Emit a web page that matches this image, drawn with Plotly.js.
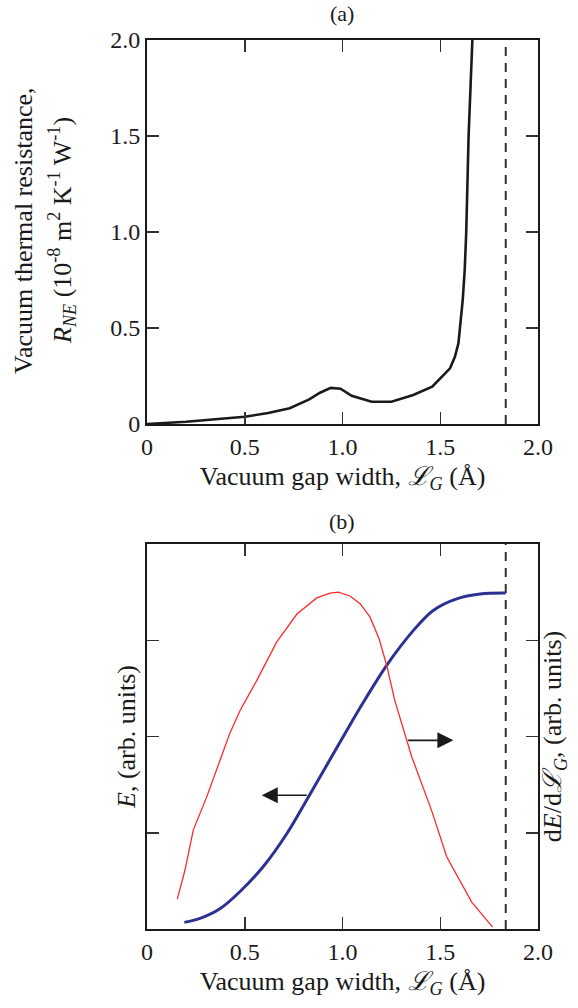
<!DOCTYPE html>
<html>
<head>
<meta charset="utf-8">
<script src="https://cdn.plot.ly/plotly-3.0.1.min.js"></script>
<style>html,body{margin:0;padding:0;background:#fff;}#chart{width:578px;height:1008px;}</style>
</head>
<body>
<div id="chart"></div>
<script>
// Panel (a): vacuum thermal resistance vs gap width
const gapA = [0, 0.2, 0.5, 0.62, 0.73, 0.83, 0.885, 0.94, 0.99, 1.047, 1.149, 1.25, 1.362, 1.459, 1.55, 1.575, 1.593, 1.605, 1.615, 1.625, 1.633, 1.645, 1.666, 1.672];
const resistA = [0, 0.012, 0.038, 0.057, 0.082, 0.128, 0.163, 0.188, 0.184, 0.147, 0.116, 0.116, 0.151, 0.194, 0.29, 0.35, 0.42, 0.54, 0.646, 0.8, 1.0, 1.5, 2.0, 2.2];

// Panel (b): energy E (left axis) and dE/dL_G (right axis), arbitrary units
const gapE = [0.191, 0.271, 0.373, 0.476, 0.595, 0.715, 0.825, 0.953, 1.055, 1.12, 1.226, 1.362, 1.464, 1.584, 1.703, 1.835];
const energyE = [0.069, 0.11, 0.21, 0.39, 0.65, 0.99, 1.37, 1.82, 2.18, 2.40, 2.74, 3.10, 3.31, 3.43, 3.48, 3.49];

const gapD = [0.155, 0.194, 0.237, 0.305, 0.373, 0.425, 0.476, 0.561, 0.663, 0.766, 0.868, 0.936, 0.979, 1.038, 1.09, 1.141, 1.188, 1.226, 1.268, 1.328, 1.354, 1.456, 1.533, 1.661, 1.768];
const derivD = [0.31, 0.61, 1.03, 1.37, 1.75, 2.04, 2.27, 2.58, 2.98, 3.27, 3.44, 3.49, 3.50, 3.46, 3.38, 3.24, 3.01, 2.74, 2.37, 1.98, 1.79, 1.23, 0.75, 0.28, 0.02];

const gapLimit = 1.835;
const xTicks = [0, 0.5, 1.0, 1.5, 2.0];
const xTickText = ['0', '0.5', '1.0', '1.5', '2.0'];
const yTicksA = [0, 0.5, 1.0, 1.5, 2.0];
const yTickTextA = ['0', '0.5', '1.0', '1.5', '2.0'];
const yTicksB = [1, 2, 3];

const FONT = '"Liberation Serif", "Times New Roman", serif';
const xTitle = 'Vacuum gap width, <i>ℒ</i><sub><i>G</i></sub> (Å)';
const yTitleA1 = 'Vacuum thermal resistance,';
const yTitleA2 = '<i>R</i><sub><i>NE</i></sub> (10<sup>-8</sup> m<sup>2</sup> K<sup>-1</sup> W<sup>-1</sup>)';

const traces = [
  {x: gapA, y: resistA, xaxis: 'x', yaxis: 'y', mode: 'lines', line: {color: '#1a1a1a', width: 2.6}, hoverinfo: 'skip'},
  {x: [gapLimit, gapLimit], y: [0, 2], xaxis: 'x', yaxis: 'y', mode: 'lines', line: {color: '#333', width: 2, dash: '9px,7px'}, hoverinfo: 'skip'},
  {x: gapD, y: derivD, xaxis: 'x2', yaxis: 'y3', mode: 'lines', line: {color: '#ff2a2a', width: 1.3}, hoverinfo: 'skip'},
  {x: gapE, y: energyE, xaxis: 'x2', yaxis: 'y2', mode: 'lines', line: {color: '#2e3192', width: 3, shape: 'spline'}, hoverinfo: 'skip'},
  {x: [gapLimit, gapLimit], y: [0, 4], xaxis: 'x2', yaxis: 'y2', mode: 'lines', line: {color: '#333', width: 2, dash: '9px,7px'}, hoverinfo: 'skip'}
];

const axBase = {
  showgrid: false, zeroline: false, showline: true, linecolor: '#1a1a1a', linewidth: 2,
  ticks: 'inside', ticklen: 12, tickwidth: 1.5, tickcolor: '#333', mirror: 'ticks',
  tickfont: {family: FONT, size: 24, color: '#1a1a1a'}
};
const tf = {family: FONT, size: 26, color: '#1a1a1a'};

const xDom = [147/578, 538/578];
const yDomA = [1 - 424/1008, 1 - 40/1008];
const layout = {
  width: 578, height: 1008,
  margin: {l: 0, r: 0, t: 0, b: 0},
  paper_bgcolor: '#fff', plot_bgcolor: '#fff',
  showlegend: false,
  font: {family: FONT, color: '#1a1a1a'},
  xaxis: Object.assign({}, axBase, {
    domain: xDom, anchor: 'y', range: [0, 2], tickvals: xTicks, ticktext: xTickText,
    title: {text: xTitle, font: tf, standoff: 8}
  }),
  yaxis: Object.assign({}, axBase, {
    domain: yDomA, anchor: 'x', range: [0, 2], tickvals: yTicksA, ticktext: yTickTextA
  }),
  xaxis2: Object.assign({}, axBase, {
    domain: xDom, anchor: 'y2', range: [0, 2], tickvals: xTicks, ticktext: xTickText,
    title: {text: xTitle, font: tf, standoff: 8}
  }),
  yaxis2: Object.assign({}, axBase, {
    domain: [1 - 929/1008, 1 - 544/1008], anchor: 'x2', range: [0, 4], tickvals: yTicksB, showticklabels: false,
    title: {text: '<i>E</i>, (arb. units)', font: tf, standoff: 2}
  }),
  yaxis3: Object.assign({}, axBase, {
    overlaying: 'y2', side: 'right', anchor: 'x2', range: [0, 4], tickvals: yTicksB, showticklabels: false, mirror: false,
    title: {text: 'd<i>E</i>/d<i>ℒ</i><sub><i>G</i></sub>, (arb. units)', font: tf, standoff: 4}
  }),
  annotations: [
    {text: yTitleA1, xref: 'paper', yref: 'paper', x: 24/578, y: 1 - 231/1008, textangle: -90, showarrow: false, font: tf, xanchor: 'center', yanchor: 'middle'},
    {text: yTitleA2, xref: 'paper', yref: 'paper', x: 62/578, y: 1 - 231/1008, textangle: -90, showarrow: false, font: tf, xanchor: 'center', yanchor: 'middle'},
    {text: '(a)', xref: 'paper', yref: 'paper', x: 342/578, y: 1 - 14/1008, showarrow: false, font: {family: FONT, size: 22, color: '#1a1a1a'}, xanchor: 'center', yanchor: 'middle'},
    {text: '(b)', xref: 'paper', yref: 'paper', x: 342/578, y: 1 - 521/1008, showarrow: false, font: {family: FONT, size: 22, color: '#1a1a1a'}, xanchor: 'center', yanchor: 'middle'},
    {x: 1.567, y: 1.96, ax: 1.328, ay: 1.96, xref: 'x2', yref: 'y2', axref: 'x2', ayref: 'y2', text: '', showarrow: true, arrowhead: 2, arrowsize: 2, arrowwidth: 1.6, arrowcolor: '#1a1a1a'},
    {x: 0.587, y: 1.39, ax: 0.825, ay: 1.39, xref: 'x2', yref: 'y2', axref: 'x2', ayref: 'y2', text: '', showarrow: true, arrowhead: 2, arrowsize: 2, arrowwidth: 1.6, arrowcolor: '#1a1a1a'}
  ]
};

Plotly.newPlot('chart', traces, layout, {staticPlot: true, displayModeBar: false});
</script>
</body>
</html>
